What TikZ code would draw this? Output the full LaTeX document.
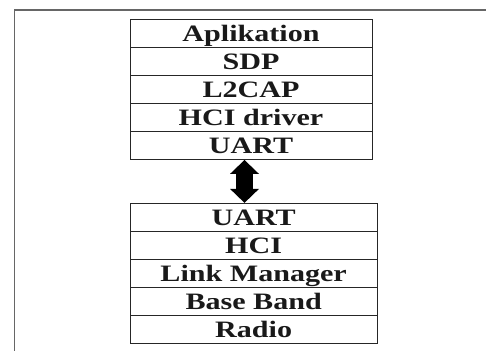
\documentclass[tikz,border=0pt]{standalone}
\usepackage{fontspec}
\newfontfamily\labfont[FakeStretch=1.28]{Liberation Serif}
\usetikzlibrary{arrows.meta}
\begin{document}
\begin{tikzpicture}[x=1pt,y=-1pt,
  layer/.style={draw=black!85, line width=0.9pt, inner sep=0pt,
    minimum height=28pt, text height=16pt, text depth=0pt,
    font=\labfont\bfseries\fontsize{23.5}{28}\selectfont, text=black!90},
  toplayer/.style={layer, minimum width=242pt},
  botlayer/.style={layer, minimum width=247.3pt},
  fatarrow/.style={line width=17pt,
    {Triangle[width=29pt,length=14pt,line width=0pt]}-{Triangle[width=29pt,length=14pt,line width=0pt]}}
]
\useasboundingbox (0,0) rectangle (486,351);
\fill[white] (0,0) rectangle (486,351);
\draw[black!60, line width=1.4pt] (486,10) -- (14.5,10) -- (14.5,351);

\node[toplayer] (t1) at (251,33.5) {Aplikation};
\node[toplayer] (t2) at (251,61.5) {SDP};
\node[toplayer] (t3) at (251,89.5) {L2CAP};
\node[toplayer] (t4) at (251,117.5) {HCI driver};
\node[toplayer] (t5) at (251,145.5) {UART};

\node[botlayer] (b1) at (253.65,217.3) {UART};
\node[botlayer] (b2) at (253.65,245.3) {HCI};
\node[botlayer] (b3) at (253.65,273.3) {Link Manager};
\node[botlayer] (b4) at (253.65,301.3) {Base Band};
\node[botlayer] (b5) at (253.65,329.3) {Radio};

\draw[fatarrow] ([xshift=-6.5pt]t5.south) -- ([xshift=-9.15pt]b1.north);
\end{tikzpicture}
\end{document}
